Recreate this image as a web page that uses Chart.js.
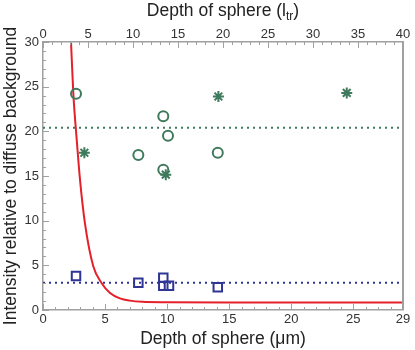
<!DOCTYPE html>
<html>
<head>
<meta charset="utf-8">
<script src="https://cdn.jsdelivr.net/npm/chart.js@4/dist/chart.umd.min.js"></script>
<style>
  html, body { margin: 0; padding: 0; background: #fff; }
  #wrap { width: 415px; height: 350px; }
</style>
</head>
<body>
<div id="wrap"><canvas id="sphere-chart"></canvas></div>
<script>
// values (x in µm, y = intensity ratio)
const circlesX = [2.66, 9.69, 10.07, 7.68, 9.69, 14.08];
const circlesY = [24.2, 21.7, 19.5, 17.35, 15.7, 17.6];
const starsX = [3.33, 9.89, 14.13, 24.47];
const starsY = [17.6, 15.15, 23.9, 24.3];
const squaresX = [2.66, 7.68, 9.69, 9.69, 10.15, 14.08];
const squaresY = [3.8, 3.05, 3.6, 2.7, 2.72, 2.55];
const greenMean = 20.4;
const blueMean = 3.05;
const curveX = [2.26, 2.44, 2.72, 2.98, 3.38, 4.05, 4.73, 5.4, 6.2, 7.0, 8.0, 10, 15, 20, 29];
const curveY = [29.9, 24.3, 19.0, 14.6, 9.7, 4.9, 3.0, 1.9, 1.3, 1.05, 0.92, 0.87, 0.85, 0.85, 0.85];

const bottomTicks = [0, 5, 10, 15, 20, 25, 29];
const topTicks = [0, 5, 10, 15, 20, 25, 30, 35, 40];
const yTicks = [0, 5, 10, 15, 20, 25, 30];

const green = '#3f7a5c';
const blue = '#2e3594';
const red = '#e4202a';
const axisGrey = '#a0a0a0';
const fontFamily = "'Liberation Sans', Arial, sans-serif";

const pairs = (xs, ys) => xs.map((x, i) => ({ x: x, y: ys[i] }));
const xMin = bottomTicks[0];
const xMax = bottomTicks[bottomTicks.length - 1];

// inward major/minor tick marks, right frame line, and top title with subscript
const frame = {
  id: 'frame',
  afterDraw(chart) {
    const ctx = chart.ctx;
    const area = chart.chartArea;
    const sx = chart.scales.x, sx2 = chart.scales.x2, sy = chart.scales.y;
    ctx.save();
    ctx.strokeStyle = axisGrey;
    ctx.lineWidth = 1;
    ctx.beginPath();
    for (let v = sx.min; v <= sx.max; v++) {
      const p = Math.round(sx.getPixelForValue(v)) + 0.5;
      const len = (v % 5 === 0 || v === sx.max) ? 6 : 3;
      ctx.moveTo(p, area.bottom);
      ctx.lineTo(p, area.bottom - len);
    }
    for (let v = sx2.min; v <= sx2.max; v++) {
      const p = Math.round(sx2.getPixelForValue(v)) + 0.5;
      const len = v % 5 === 0 ? 6 : 3;
      ctx.moveTo(p, area.top);
      ctx.lineTo(p, area.top + len);
    }
    for (let v = sy.min; v <= sy.max; v++) {
      const p = Math.round(sy.getPixelForValue(v)) + 0.5;
      const len = v % 5 === 0 ? 6 : 3;
      ctx.moveTo(area.left, p);
      ctx.lineTo(area.left + len, p);
    }
    ctx.stroke();

    ctx.lineWidth = 2;
    ctx.beginPath();
    ctx.moveTo(area.right, area.top);
    ctx.lineTo(area.right, area.bottom);
    ctx.stroke();

    // top axis title: Depth of sphere (l_tr)
    const main = '17.5px ' + fontFamily;
    const sub = '12px ' + fontFamily;
    ctx.fillStyle = '#222';
    ctx.textBaseline = 'alphabetic';
    ctx.textAlign = 'left';
    const a = 'Depth of sphere (l', b = 'tr', c = ')';
    ctx.font = main;
    const wa = ctx.measureText(a).width, wc = ctx.measureText(c).width;
    ctx.font = sub;
    const wb = ctx.measureText(b).width;
    let x = (area.left + area.right) / 2 - (wa + wb + wc) / 2;
    const base = 16;
    ctx.font = main;
    ctx.fillText(a, x, base);
    x += wa;
    ctx.font = sub;
    ctx.fillText(b, x, base + 4);
    x += wb;
    ctx.font = main;
    ctx.fillText(c, x, base);
    ctx.restore();
  }
};

const tickFont = { family: fontFamily, size: 13 };
const titleFont = { family: fontFamily, size: 17.5 };

const chart = new Chart(document.getElementById('sphere-chart'), {
  type: 'scatter',
  data: {
    datasets: [
      {
        label: 'circles',
        data: pairs(circlesX, circlesY),
        pointStyle: 'circle',
        pointRadius: 5,
        borderColor: green,
        backgroundColor: 'rgba(0,0,0,0)',
        borderWidth: 2,
        order: 1
      },
      {
        label: 'stars',
        data: pairs(starsX, starsY),
        pointStyle: 'star',
        pointRadius: 5.5,
        borderColor: green,
        backgroundColor: green,
        borderWidth: 2,
        order: 1
      },
      {
        label: 'squares',
        data: pairs(squaresX, squaresY),
        pointStyle: 'rect',
        pointRadius: 6,
        borderColor: blue,
        backgroundColor: 'rgba(0,0,0,0)',
        borderWidth: 2,
        order: 1
      },
      {
        label: 'green mean',
        type: 'line',
        data: [{ x: xMin, y: greenMean }, { x: xMax, y: greenMean }],
        borderColor: green,
        borderWidth: 2,
        borderDash: [2, 4],
        pointRadius: 0,
        order: 3
      },
      {
        label: 'blue mean',
        type: 'line',
        data: [{ x: xMin, y: blueMean }, { x: xMax, y: blueMean }],
        borderColor: blue,
        borderWidth: 2,
        borderDash: [2, 4],
        pointRadius: 0,
        order: 3
      },
      {
        label: 'fit',
        type: 'line',
        data: pairs(curveX, curveY),
        borderColor: red,
        borderWidth: 2,
        pointRadius: 0,
        cubicInterpolationMode: 'monotone',
        order: 2
      }
    ]
  },
  options: {
    responsive: true,
    maintainAspectRatio: false,
    animation: false,
    layout: { padding: { left: 0, right: 12, top: 0, bottom: 0 } },
    plugins: {
      legend: { display: false },
      tooltip: { enabled: false }
    },
    scales: {
      x: {
        type: 'linear',
        position: 'bottom',
        min: xMin,
        max: xMax,
        afterBuildTicks: s => { s.ticks = bottomTicks.map(v => ({ value: v })); },
        afterFit: s => { s.height = 40; },
        grid: { display: false, drawTicks: false },
        border: { display: true, color: axisGrey, width: 1.5 },
        ticks: { font: tickFont, color: '#333', padding: 2, maxRotation: 0 },
        title: { display: true, text: 'Depth of sphere (\u03bcm)', font: titleFont, color: '#222', padding: { top: 0, bottom: 0 } }
      },
      x2: {
        type: 'linear',
        position: 'top',
        min: topTicks[0],
        max: topTicks[topTicks.length - 1],
        afterBuildTicks: s => { s.ticks = topTicks.map(v => ({ value: v })); },
        afterFit: s => { s.height = 42; },
        grid: { display: false, drawTicks: false },
        border: { display: true, color: axisGrey, width: 1.5 },
        ticks: { font: tickFont, color: '#333', padding: 0, maxRotation: 0 }
      },
      y: {
        type: 'linear',
        min: yTicks[0],
        max: yTicks[yTicks.length - 1],
        afterBuildTicks: s => { s.ticks = yTicks.map(v => ({ value: v })); },
        afterFit: s => { s.width = 43; },
        grid: { display: false, drawTicks: false },
        border: { display: true, color: axisGrey, width: 1.5 },
        ticks: { font: tickFont, color: '#333', padding: 4 },
        title: { display: true, text: 'Intensity relative to diffuse background', font: titleFont, color: '#222', padding: { top: 1, bottom: 0 } }
      }
    }
  },
  plugins: [frame]
});
</script>
</body>
</html>
